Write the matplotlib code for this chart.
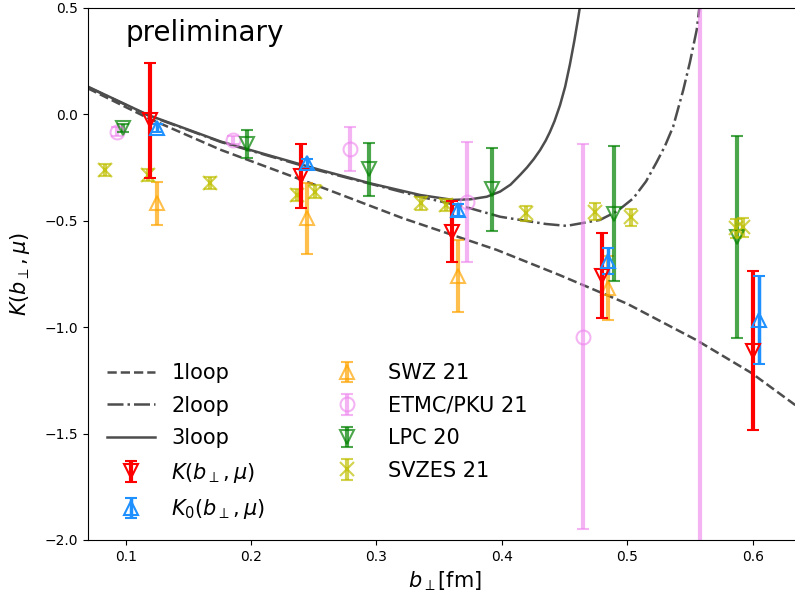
import matplotlib

matplotlib.use("Agg")
import matplotlib.pyplot as plt
import numpy as np

# perturbative curves
loop1_b = [0.07, 0.118, 0.176, 0.255, 0.321, 0.396, 0.446, 0.50, 0.555, 0.599, 0.634, 0.66]
loop1_k = [0.122, -0.018, -0.167, -0.34, -0.488, -0.637, -0.755, -0.89, -1.06, -1.215, -1.366, -1.48]

loop2_b = [0.07, 0.118, 0.176, 0.255, 0.335, 0.3746, 0.3986, 0.4145, 0.435, 0.4517,
           0.4783, 0.4920, 0.5049, 0.5150, 0.5234, 0.5300, 0.5366, 0.5447, 0.5500,
           0.5554, 0.5573, 0.560]
loop2_k = [0.128, -0.005, -0.13, -0.265, -0.387, -0.441, -0.481, -0.496, -0.515, -0.524,
           -0.496, -0.455, -0.394, -0.315, -0.225, -0.150, -0.058, 0.115, 0.245,
           0.397, 0.49, 0.62]

loop3_b = [0.07, 0.118, 0.176, 0.255, 0.295, 0.335, 0.361, 0.375, 0.388, 0.3986,
           0.407, 0.4145, 0.420, 0.4255, 0.4305, 0.435, 0.4384, 0.442, 0.4464,
           0.4505, 0.4543, 0.4578, 0.4608, 0.4635, 0.467]
loop3_k = [0.130, -0.003, -0.128, -0.261, -0.324, -0.379, -0.402, -0.399, -0.387, -0.363,
           -0.33, -0.285, -0.25, -0.21, -0.168, -0.123, -0.082, -0.032, 0.043,
           0.13, 0.235, 0.345, 0.45, 0.55, 0.68]

# this work
k_b = [0.1194, 0.2396, 0.360, 0.4796, 0.600]
k_val = [-0.028, -0.291, -0.552, -0.758, -1.11]
k_err = [0.27, 0.15, 0.143, 0.20, 0.375]

k0_b = [0.1248, 0.2444, 0.3653, 0.4849, 0.605]
k0_val = [-0.065, -0.23, -0.449, -0.69, -0.966]
k0_err = [0.02, 0.02, 0.03, 0.06, 0.207]

# other lattice results
swz_b = [0.1248, 0.2444, 0.3649, 0.4849]
swz_val = [-0.418, -0.489, -0.76, -0.817]
swz_err = [0.10, 0.168, 0.17, 0.15]

etmc_b = [0.0929, 0.1859, 0.2789, 0.372, 0.465, 0.558]
etmc_val = [-0.081, -0.12, -0.161, -0.412, -1.045, -2.6]
etmc_err = [0.02, 0.02, 0.103, 0.28, 0.905, 3.5]

lpc_b = [0.0982, 0.1966, 0.2943, 0.392, 0.4897, 0.5878]
lpc_val = [-0.065, -0.14, -0.258, -0.353, -0.466, -0.576]
lpc_err = [0.02, 0.065, 0.125, 0.197, 0.318, 0.476]

svzes_b = [0.0836, 0.1181, 0.1673, 0.2369, 0.251, 0.3353, 0.3555, 0.4193,
           0.4743, 0.503, 0.5868, 0.5926]
svzes_val = [-0.261, -0.285, -0.324, -0.379, -0.363, -0.418, -0.426, -0.465,
             -0.457, -0.484, -0.535, -0.53]
svzes_err = [0.028, 0.028, 0.028, 0.03, 0.03, 0.03, 0.03, 0.035,
             0.04, 0.04, 0.045, 0.045]


fig = plt.figure(figsize=(7.95, 6.03), dpi=100)
ax = fig.add_axes([0.1107, 0.1045, 0.8991, 0.8823])

line_color = "0.3"
ax.plot(loop1_b, loop1_k, "--", color=line_color, lw=1.8, label="1loop")
ax.plot(loop2_b, loop2_k, "-.", color=line_color, lw=1.8, label="2loop")
ax.plot(loop3_b, loop3_k, "-", color=line_color, lw=1.8, label="3loop")

common = dict(ls="none", mfc="none", ms=10, mew=1.5, capsize=4, capthick=2)
ax.errorbar(k_b, k_val, yerr=k_err, fmt="v", color="red", elinewidth=3,
            label=r"$K(b_\perp,\mu)$", zorder=4, **common)
ax.errorbar(k0_b, k0_val, yerr=k0_err, fmt="^", color="dodgerblue", elinewidth=2.5,
            label=r"$K_0(b_\perp,\mu)$", zorder=4, **common)
ax.errorbar(swz_b, swz_val, yerr=swz_err, fmt="^", color="orange", alpha=0.7,
            elinewidth=3, label="SWZ 21", **common)
ax.errorbar(etmc_b, etmc_val, yerr=etmc_err, fmt="o", color="violet", alpha=0.6,
            elinewidth=3, label="ETMC/PKU 21", **common)
ax.errorbar(lpc_b, lpc_val, yerr=lpc_err, fmt="v", color="green", alpha=0.7,
            elinewidth=3, label="LPC 20", **common)
ax.errorbar(svzes_b, svzes_val, yerr=svzes_err, fmt="x", color="y", alpha=0.7,
            elinewidth=3, label="SVZES 21", **common)

ax.text(0.1, 0.345, "preliminary", fontsize=20)

ax.set_xlim(0.07, 0.64)
ax.set_ylim(-2.0, 0.5)
ax.set_xticks([0.1, 0.2, 0.3, 0.4, 0.5, 0.6])
ax.set_yticks([-2.0, -1.5, -1.0, -0.5, 0.0, 0.5])
ax.set_xlabel(r"$b_\perp$[fm]", fontsize=15)
ax.set_ylabel(r"$K(b_\perp,\mu)$", fontsize=15, labelpad=9)

ax.legend(loc="lower left", ncol=2, frameon=False, fontsize=15,
          handlelength=2.3, columnspacing=2.8, labelspacing=0.6)

fig.savefig("out.png", dpi=100)
